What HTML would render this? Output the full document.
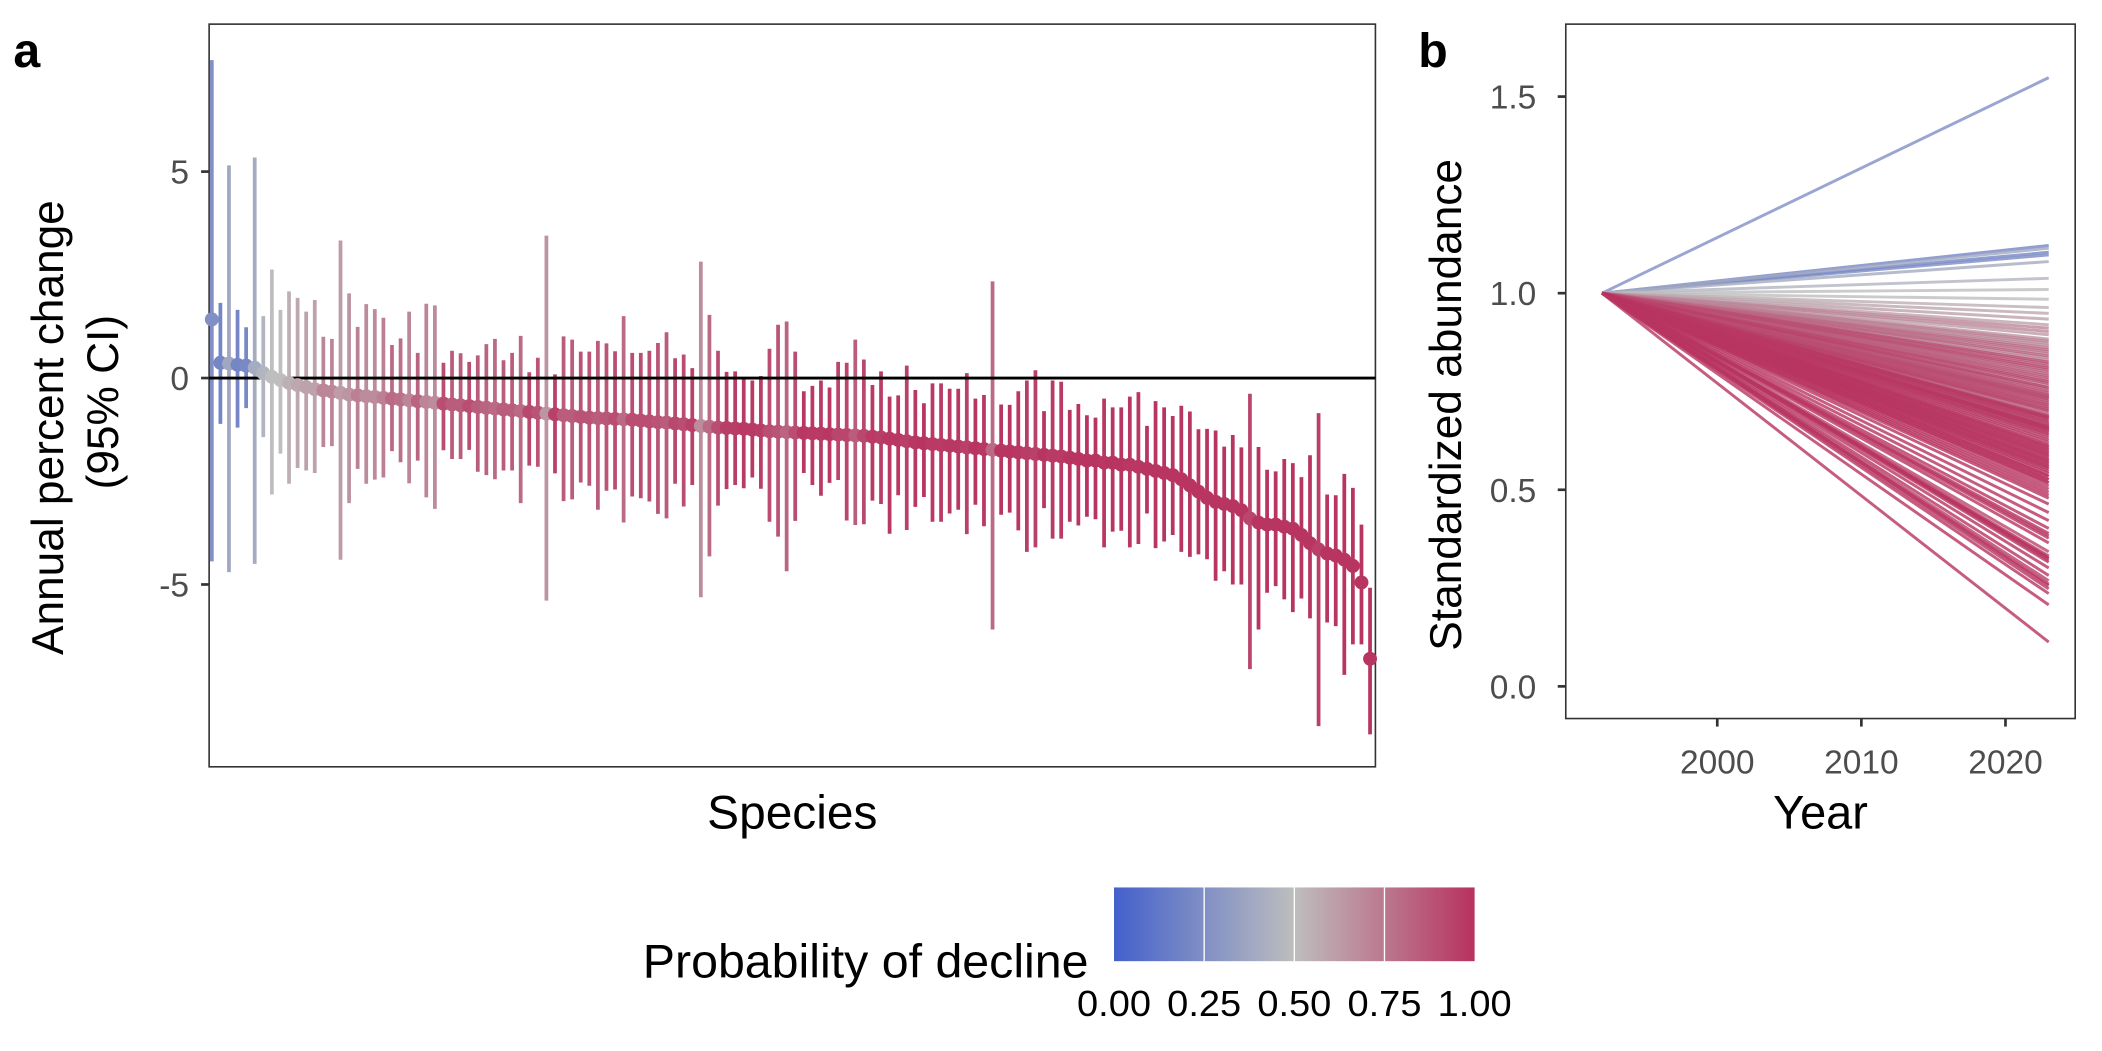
<!DOCTYPE html>
<html><head><meta charset="utf-8">
<style>
html,body{margin:0;padding:0;background:#fff;}
svg{display:block;font-family:"Liberation Sans",Arial,sans-serif;}
</style></head>
<body>
<svg id="fig" width="2102" height="1051" viewBox="0 0 1568 784" xmlns="http://www.w3.org/2000/svg">
<defs>
<linearGradient id="cbar" x1="0" x2="1" y1="0" y2="0">
<stop offset="0" stop-color="#4360cc"/>
<stop offset="0.5" stop-color="#bebebe"/>
<stop offset="1" stop-color="#b8325f"/>
</linearGradient>
</defs>
<text x="10" y="50" font-size="36" font-weight="bold">a</text>
<text x="1058" y="50" font-size="36" font-weight="bold">b</text>
<g id="pa"></g>
<g id="pb"></g>
<g>
<text transform="translate(812,729) scale(1.03,1)" font-size="35" text-anchor="end">Probability of decline</text>
<rect x="831" y="662" width="269" height="55" fill="url(#cbar)"/>
<g id="cbticks"></g>
</g>
</svg>
<script>
const means = [1.42,0.37,0.35,0.32,0.3,0.25,0.12,0.03,-0.05,-0.12,
-0.17,-0.22,-0.27,-0.3,-0.33,-0.36,-0.4,-0.42,-0.44,-0.46,
-0.48,-0.5,-0.52,-0.54,-0.56,-0.58,-0.6,-0.62,-0.64,-0.66,
-0.68,-0.7,-0.72,-0.74,-0.76,-0.78,-0.8,-0.82,-0.84,-0.86,
-0.88,-0.9,-0.92,-0.94,-0.96,-0.97,-0.98,-0.99,-1.0,-1.01,
-1.03,-1.05,-1.07,-1.08,-1.1,-1.12,-1.14,-1.16,-1.18,-1.2,
-1.21,-1.22,-1.23,-1.25,-1.27,-1.29,-1.3,-1.31,-1.32,-1.33,
-1.34,-1.35,-1.36,-1.37,-1.38,-1.39,-1.4,-1.42,-1.44,-1.47,
-1.5,-1.53,-1.56,-1.58,-1.6,-1.62,-1.64,-1.66,-1.68,-1.7,
-1.72,-1.74,-1.76,-1.78,-1.8,-1.82,-1.84,-1.86,-1.88,-1.9,
-1.93,-1.96,-2.0,-2.0,-2.05,-2.05,-2.1,-2.1,-2.15,-2.2,
-2.25,-2.3,-2.35,-2.45,-2.6,-2.75,-2.9,-3.0,-3.05,-3.1,
-3.2,-3.4,-3.5,-3.55,-3.55,-3.6,-3.65,-3.8,-4.0,-4.15,
-4.25,-4.3,-4.4,-4.55,-4.95,-6.8];
const upper = [7.7,1.82,5.15,1.65,1.23,5.34,1.5,2.63,1.65,2.1,
1.94,1.61,1.89,1.0,0.95,3.33,2.05,1.24,1.79,1.67,
1.46,0.8,0.96,1.61,0.61,1.8,1.76,0.37,0.66,0.6,
0.39,0.55,0.82,0.95,0.43,0.61,1.02,0.14,0.49,3.45,
0.09,1.01,0.93,0.64,0.64,0.9,0.84,0.65,1.5,0.61,
0.61,0.66,0.85,1.11,0.48,0.57,0.24,2.82,1.53,0.66,
0.15,0.16,-0.03,-0.06,0.05,0.71,1.29,1.37,0.64,-0.32,
-0.19,-0.06,-0.23,0.39,0.37,0.93,0.45,-0.17,0.16,-0.45,
-0.42,0.3,-0.29,-0.61,-0.13,-0.13,-0.26,-0.26,0.12,-0.5,
-0.41,2.34,-0.64,-0.65,-0.32,-0.06,0.19,-0.8,-0.06,-0.09,
-0.77,-0.63,-0.9,-0.96,-0.5,-0.71,-0.71,-0.45,-0.34,-1.16,
-0.56,-0.71,-0.92,-0.67,-0.81,-1.24,-1.23,-1.27,-1.66,-1.38,
-1.68,-0.38,-1.67,-2.22,-2.26,-1.96,-2.06,-2.4,-1.87,-0.85,
-2.82,-2.84,-2.32,-2.66,-3.55,-5.08];
const lower = [-4.44,-1.11,-4.7,-1.2,-0.73,-4.5,-1.43,-2.82,-1.83,-2.56,
-2.18,-2.24,-2.3,-1.67,-1.65,-4.4,-3.03,-2.2,-2.56,-2.46,
-2.41,-1.77,-2.04,-2.55,-2.0,-2.89,-3.17,-1.75,-1.96,-1.96,
-1.74,-2.27,-2.35,-2.45,-2.24,-2.24,-3.03,-2.12,-2.15,-5.39,
-2.31,-2.98,-2.94,-2.53,-2.61,-3.19,-2.73,-2.7,-3.5,-2.87,
-2.91,-2.99,-3.29,-3.4,-2.56,-3.11,-2.59,-5.31,-4.32,-3.09,
-2.69,-2.59,-2.67,-2.41,-2.68,-3.48,-3.84,-4.68,-3.46,-2.3,
-2.59,-2.85,-2.54,-2.47,-3.45,-3.56,-3.54,-2.97,-3.05,-3.77,
-2.84,-3.68,-3.12,-2.88,-3.48,-3.48,-3.28,-3.19,-3.78,-3.07,
-3.59,-6.09,-3.31,-3.26,-3.69,-4.21,-4.1,-3.15,-3.89,-3.89,
-3.48,-3.57,-3.36,-3.42,-4.1,-3.72,-3.7,-4.1,-4.02,-3.28,
-4.12,-3.96,-3.8,-4.21,-4.33,-4.27,-4.39,-4.91,-4.68,-5.0,
-5.0,-7.05,-6.09,-5.2,-5.04,-5.36,-5.67,-5.34,-5.82,-8.43,
-5.92,-6.01,-7.19,-6.45,-6.45,-8.63];
const probDecline = [0.25,0.2,0.38,0.2,0.22,0.4,0.45,0.5,0.5,0.55,
0.58,0.6,0.6,0.7,0.7,0.62,0.65,0.72,0.68,0.68,
0.72,0.8,0.78,0.7,0.82,0.7,0.68,0.9,0.85,0.85,
0.9,0.85,0.82,0.8,0.85,0.85,0.8,0.92,0.88,0.65,
0.95,0.85,0.85,0.88,0.88,0.85,0.87,0.9,0.8,0.9,
0.9,0.9,0.88,0.85,0.92,0.9,0.95,0.68,0.8,0.9,
0.96,0.96,0.97,0.97,0.96,0.9,0.88,0.82,0.9,0.98,
0.97,0.97,0.98,0.93,0.93,0.85,0.92,0.97,0.96,0.98,
0.98,0.95,0.98,0.99,0.97,0.97,0.98,0.98,0.95,0.99,
0.98,0.8,0.99,0.99,0.98,0.96,0.95,0.99,0.97,0.97,
0.99,0.99,0.99,0.99,0.98,0.99,0.99,0.98,0.98,0.99,
0.99,0.99,0.99,0.99,0.99,0.99,0.99,0.99,0.99,0.99,
0.99,0.93,0.99,0.99,0.99,0.99,0.99,0.99,0.99,0.95,
0.99,0.99,0.99,0.99,0.99,0.99];
const aYTicks = [5,0,-5];
const aYTickLabels = ["5","0","-5"];
const bYTicks = [0.0,0.5,1.0,1.5];
const bYTickLabels = ["0.0","0.5","1.0","1.5"];
const bXTicks = [2000,2010,2020];
const bXTickLabels = ["2000","2010","2020"];
const years = [1992,2023];
const cbTicks = [0,0.25,0.5,0.75,1];
const cbTickLabels = ["0.00","0.25","0.50","0.75","1.00"];

const NS = "http://www.w3.org/2000/svg";
function mk(parent, tag, attrs, text){
  const e = document.createElementNS(NS, tag);
  for (const k in attrs) e.setAttribute(k, attrs[k]);
  if (text !== undefined) e.textContent = text;
  parent.appendChild(e);
  return e;
}
function htext(parent, x, y, size, anchor, fill, s, sx){
  return mk(parent,"text",{transform:"translate("+x+","+y+") scale("+(sx||1)+",1)",'font-size':size,'text-anchor':anchor,fill:fill},s);
}
function hex(c){return [parseInt(c.slice(1,3),16),parseInt(c.slice(3,5),16),parseInt(c.slice(5,7),16)];}
const cLo=hex("#4360cc"), cMid=hex("#bebebe"), cHi=hex("#b8325f");
function colorFor(p){
  let a,b,t;
  if(p<0.5){a=cLo;b=cMid;t=p/0.5;}else{a=cMid;b=cHi;t=(p-0.5)/0.5;}
  const r=a.map((v,i)=>Math.round(v+(b[i]-v)*t));
  return "rgb("+r.join(",")+")";
}

// Panel A
const pa = document.getElementById("pa");
const aL=156,aR=1026,aT=18,aB=572;
const n = means.length;
function ax(i){return 158 + i*(1022-158)/(n-1);}
function ay(v){return 282 - v*30.8;}
const frameA = mk(pa,"rect",{x:aL,y:aT,width:aR-aL,height:aB-aT,fill:"none",stroke:"#333",'stroke-width':1.2});


aYTicks.forEach((v,k)=>{
  const t = mk(pa,"line",{x1:aL-6,x2:aL,y1:ay(v),y2:ay(v),stroke:"#333",'stroke-width':2});
  
  
  const l = htext(pa,aL-15,ay(v)+9,25,'end','#4d4d4d',aYTickLabels[k]);
  
  
});
for(let i=0;i<n;i++){
  const b = mk(pa,"line",{x1:ax(i),x2:ax(i),y1:ay(upper[i]),y2:ay(Math.max(lower[i],-9.35)),stroke:colorFor(probDecline[i]),'stroke-width':2.8});
  
  
}
const zl = mk(pa,"line",{x1:aL,x2:aR,y1:ay(0),y2:ay(0),stroke:"#000",'stroke-width':2.2});


for(let i=0;i<n;i++){
  const c = mk(pa,"circle",{cx:ax(i),cy:ay(means[i]),r:5.2,fill:colorFor(probDecline[i])});
  
  
}
const at1 = mk(pa,"text",{x:0,y:0,'font-size':33,'text-anchor':'middle',transform:"translate(47,319) rotate(-90)"},"Annual percent change");


const at2 = mk(pa,"text",{x:0,y:0,'font-size':33,'text-anchor':'middle',transform:"translate(88,300) rotate(-90)"},"(95% CI)");


const axa = htext(pa,(aL+aR)/2,618,35,'middle','#000',"Species",1.02);



// Panel B
const pb = document.getElementById("pb");
const bL=1168,bR=1548,bT=18,bB=536;
function bx(yr){return 1281 + (yr-2000)*10.75;}
function by(v){return 512 - v*293.3;}
const frameB = mk(pb,"rect",{x:bL,y:bT,width:bR-bL,height:bB-bT,fill:"none",stroke:"#333",'stroke-width':1.2});


bYTicks.forEach((v,k)=>{
  const t = mk(pb,"line",{x1:bL-6,x2:bL,y1:by(v),y2:by(v),stroke:"#333",'stroke-width':2});
  
  
  const l = htext(pb,bL-22,by(v)+9,25,'end','#4d4d4d',bYTickLabels[k]);
  
  
});
bXTicks.forEach((v,k)=>{
  const t = mk(pb,"line",{x1:bx(v),x2:bx(v),y1:bB,y2:bB+6,stroke:"#333",'stroke-width':2});
  
  
  const l = htext(pb,bx(v),577,25,'middle','#4d4d4d',bXTickLabels[k]);
  
  
});
const order = [...Array(n).keys()].sort((a,b)=>probDecline[a]-probDecline[b]);
const span = years[1]-years[0];
order.forEach(i=>{
  const endV = Math.pow(1+means[i]/100, span);
  const ln = mk(pb,"line",{x1:bx(years[0]),y1:by(1),x2:bx(years[1]),y2:by(endV),stroke:colorFor(probDecline[i]),'stroke-width':2.2,'stroke-opacity':0.8});
  
  
});
const bt = mk(pb,"text",{x:0,y:0,'font-size':33,'text-anchor':'middle',transform:"translate(1090,302) rotate(-90)"},"Standardized abundance");


const bxt = htext(pb,1358,618,35,'middle','#000',"Year",1.0);



// Colorbar ticks
const cbt = document.getElementById("cbticks");
cbTicks.forEach((v,k)=>{
  const x = 831 + v*269;
  if(v>0 && v<1){
    const t = mk(cbt,"line",{x1:x,x2:x,y1:662,y2:717,stroke:"#fff",'stroke-width':1});
    
    
  }
  const l = htext(cbt,x,758,27,'middle','#000',cbTickLabels[k],1.05);
  
  
});
</script>
</body></html>
